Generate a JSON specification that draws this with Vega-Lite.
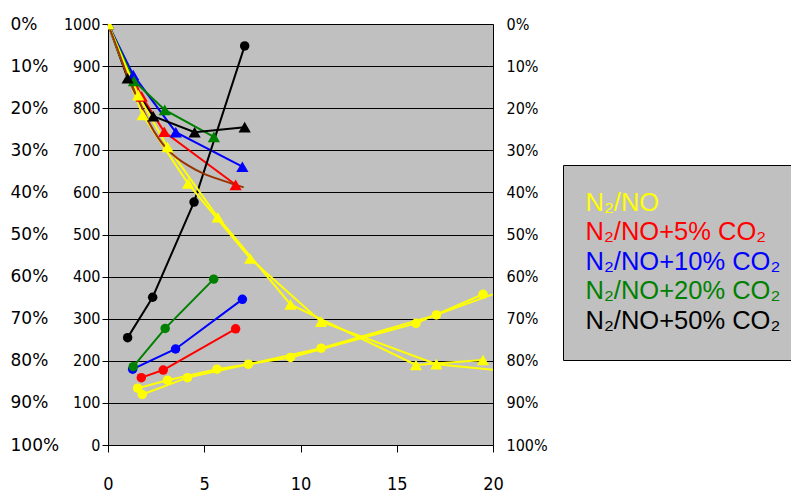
{
  "$schema": "https://vega.github.io/schema/vega-lite/v6.json",
  "width": 385,
  "height": 421,
  "autosize": {"type": "none"},
  "padding": {"left": 108, "top": 24, "right": 298, "bottom": 47},
  "background": "white",
  "config": {
    "view": {"fill": "#C0C0C0", "stroke": "#808080", "strokeWidth": 1},
    "axis": {"labelColor": "black", "domainColor": "black", "tickColor": "black", "title": null, "labelFlush": false}
  },
  "datasets": {
    "obs": [
      {"group": "N₂/NO+5% CO₂", "series": "red-f", "curve": "falling", "t": 0, "v": 1000},
      {"group": "N₂/NO+5% CO₂", "series": "red-f", "curve": "falling", "t": 1.75, "v": 828},
      {"group": "N₂/NO+5% CO₂", "series": "red-f", "curve": "falling", "t": 2.92, "v": 744},
      {"group": "N₂/NO+5% CO₂", "series": "red-f", "curve": "falling", "t": 6.63, "v": 618},
      {"group": "N₂/NO+5% CO₂", "series": "red-r", "curve": "rising", "t": 1.73, "v": 160},
      {"group": "N₂/NO+5% CO₂", "series": "red-r", "curve": "rising", "t": 2.87, "v": 178},
      {"group": "N₂/NO+5% CO₂", "series": "red-r", "curve": "rising", "t": 6.63, "v": 276},
      {"group": "N₂/NO+10% CO₂", "series": "blue-f", "curve": "falling", "t": 0, "v": 1000},
      {"group": "N₂/NO+10% CO₂", "series": "blue-f", "curve": "falling", "t": 1.31, "v": 879},
      {"group": "N₂/NO+10% CO₂", "series": "blue-f", "curve": "falling", "t": 3.52, "v": 743},
      {"group": "N₂/NO+10% CO₂", "series": "blue-f", "curve": "falling", "t": 6.98, "v": 661},
      {"group": "N₂/NO+10% CO₂", "series": "blue-r", "curve": "rising", "t": 1.28, "v": 180},
      {"group": "N₂/NO+10% CO₂", "series": "blue-r", "curve": "rising", "t": 3.51, "v": 228},
      {"group": "N₂/NO+10% CO₂", "series": "blue-r", "curve": "rising", "t": 6.98, "v": 346},
      {"group": "N₂/NO+20% CO₂", "series": "green-f", "curve": "falling", "t": 0, "v": 1000},
      {"group": "N₂/NO+20% CO₂", "series": "green-f", "curve": "falling", "t": 1.35, "v": 865},
      {"group": "N₂/NO+20% CO₂", "series": "green-f", "curve": "falling", "t": 2.95, "v": 796},
      {"group": "N₂/NO+20% CO₂", "series": "green-f", "curve": "falling", "t": 5.5, "v": 732},
      {"group": "N₂/NO+20% CO₂", "series": "green-r", "curve": "rising", "t": 1.31, "v": 186},
      {"group": "N₂/NO+20% CO₂", "series": "green-r", "curve": "rising", "t": 2.97, "v": 277},
      {"group": "N₂/NO+20% CO₂", "series": "green-r", "curve": "rising", "t": 5.49, "v": 394},
      {"group": "N₂/NO+50% CO₂", "series": "black-f", "curve": "falling", "t": 0, "v": 1000},
      {"group": "N₂/NO+50% CO₂", "series": "black-f", "curve": "falling", "t": 1.02, "v": 871},
      {"group": "N₂/NO+50% CO₂", "series": "black-f", "curve": "falling", "t": 2.35, "v": 781},
      {"group": "N₂/NO+50% CO₂", "series": "black-f", "curve": "falling", "t": 4.5, "v": 743},
      {"group": "N₂/NO+50% CO₂", "series": "black-f", "curve": "falling", "t": 7.1, "v": 755},
      {"group": "N₂/NO+50% CO₂", "series": "black-r", "curve": "rising", "t": 1.02, "v": 255},
      {"group": "N₂/NO+50% CO₂", "series": "black-r", "curve": "rising", "t": 2.32, "v": 351},
      {"group": "N₂/NO+50% CO₂", "series": "black-r", "curve": "rising", "t": 4.47, "v": 577},
      {"group": "N₂/NO+50% CO₂", "series": "black-r", "curve": "rising", "t": 7.1, "v": 948},
      {"group": "N₂/NO", "series": "yellow-f1", "curve": "falling", "t": 0, "v": 1000},
      {"group": "N₂/NO", "series": "yellow-f1", "curve": "falling", "t": 1.57, "v": 831},
      {"group": "N₂/NO", "series": "yellow-f1", "curve": "falling", "t": 3.09, "v": 708},
      {"group": "N₂/NO", "series": "yellow-f1", "curve": "falling", "t": 5.7, "v": 541},
      {"group": "N₂/NO", "series": "yellow-f1", "curve": "falling", "t": 9.48, "v": 334},
      {"group": "N₂/NO", "series": "yellow-f1", "curve": "falling", "t": 16.0, "v": 190},
      {"group": "N₂/NO", "series": "yellow-f1", "curve": "falling", "t": 19.48, "v": 202},
      {"group": "N₂/NO", "series": "yellow-f2", "curve": "falling", "t": 0, "v": 1000},
      {"group": "N₂/NO", "series": "yellow-f2", "curve": "falling", "t": 1.8, "v": 784},
      {"group": "N₂/NO", "series": "yellow-f2", "curve": "falling", "t": 4.16, "v": 621},
      {"group": "N₂/NO", "series": "yellow-f2", "curve": "falling", "t": 7.39, "v": 443},
      {"group": "N₂/NO", "series": "yellow-f2", "curve": "falling", "t": 11.07, "v": 293},
      {"group": "N₂/NO", "series": "yellow-f2", "curve": "falling", "t": 17.06, "v": 192},
      {"group": "N₂/NO", "series": "yellow-f2", "curve": "falling", "t": 22.5, "v": 167},
      {"group": "N₂/NO", "series": "yellow-r1", "curve": "rising", "t": 1.54, "v": 135},
      {"group": "N₂/NO", "series": "yellow-r1", "curve": "rising", "t": 3.09, "v": 154},
      {"group": "N₂/NO", "series": "yellow-r1", "curve": "rising", "t": 5.66, "v": 180},
      {"group": "N₂/NO", "series": "yellow-r1", "curve": "rising", "t": 9.48, "v": 208},
      {"group": "N₂/NO", "series": "yellow-r1", "curve": "rising", "t": 16.0, "v": 289},
      {"group": "N₂/NO", "series": "yellow-r1", "curve": "rising", "t": 19.48, "v": 358},
      {"group": "N₂/NO", "series": "yellow-r2", "curve": "rising", "t": 1.78, "v": 120},
      {"group": "N₂/NO", "series": "yellow-r2", "curve": "rising", "t": 4.13, "v": 160},
      {"group": "N₂/NO", "series": "yellow-r2", "curve": "rising", "t": 7.29, "v": 192},
      {"group": "N₂/NO", "series": "yellow-r2", "curve": "rising", "t": 11.07, "v": 230},
      {"group": "N₂/NO", "series": "yellow-r2", "curve": "rising", "t": 17.06, "v": 309},
      {"group": "N₂/NO", "series": "yellow-r2", "curve": "rising", "t": 22.5, "v": 400}
    ],
    "trend": [
      {"t": 0, "v": 1000},
      {"t": 0.5, "v": 940},
      {"t": 1.14, "v": 862},
      {"t": 1.66, "v": 812},
      {"t": 2.18, "v": 762},
      {"t": 2.6, "v": 730},
      {"t": 3.0, "v": 706},
      {"t": 3.47, "v": 686},
      {"t": 4.2, "v": 663},
      {"t": 4.94, "v": 645},
      {"t": 5.97, "v": 628},
      {"t": 7.05, "v": 612}
    ]
  },
  "layer": [
    {
      "data": {"name": "obs"},
      "mark": {"type": "line", "strokeWidth": 2, "clip": true},
      "encoding": {
        "x": {
          "field": "t", "type": "quantitative",
          "scale": {"domain": [0, 20], "nice": false},
          "axis": {
            "values": [0, 5, 10, 15, 20], "grid": false, "tickSize": 7, "labelPadding": 23,
            "labelFont": "DejaVu Sans Condensed", "labelFontSize": 18, "domainWidth": 1
          }
        },
        "y": {
          "field": "v", "type": "quantitative",
          "scale": {"domain": [0, 1000], "nice": false},
          "axis": {
            "orient": "left", "values": [0, 100, 200, 300, 400, 500, 600, 700, 800, 900, 1000],
            "format": "d",
            "grid": true, "gridColor": "black", "gridOpacity": 1, "gridWidth": 1,
            "tickSize": 6, "labelPadding": 2,
            "labelFont": "DejaVu Sans Condensed", "labelFontSize": 16
          }
        },
        "color": {
          "field": "group", "type": "nominal",
          "scale": {
            "domain": ["N₂/NO", "N₂/NO+5% CO₂", "N₂/NO+10% CO₂", "N₂/NO+20% CO₂", "N₂/NO+50% CO₂"],
            "range": ["#FFFF00", "#FF0000", "#0000FF", "#008000", "#000000"]
          },
          "legend": {
            "orient": "none", "legendX": 455, "legendY": 141, "title": null,
            "fillColor": "#C0C0C0", "strokeColor": "black", "padding": 25,
            "symbolSize": 0, "symbolStrokeWidth": 0, "symbolOpacity": 0,
            "labelFont": "Liberation Sans", "labelFontSize": 25.5, "labelOffset": -28,
            "rowPadding": 2.5, "labelLimit": 400,
            "encode": {"labels": {"update": {"fill": {"signal": "scale('color', datum.value)"}}}}
          }
        },
        "detail": {"field": "series", "type": "nominal"}
      }
    },
    {
      "data": {"name": "trend"},
      "mark": {"type": "line", "strokeWidth": 2, "color": "#993300", "interpolate": "monotone"},
      "encoding": {
        "x": {"field": "t", "type": "quantitative", "scale": {"domain": [0, 20], "nice": false}},
        "y": {
          "field": "v", "type": "quantitative",
          "scale": {"domain": [0, 1000], "nice": false},
          "axis": {
            "orient": "left", "values": [0, 100, 200, 300, 400, 500, 600, 700, 800, 900, 1000],
            "grid": false, "domain": false, "ticks": false, "labelAlign": "left", "labelPadding": 98,
            "labelFont": "DejaVu Sans", "labelFontSize": 17,
            "labelExpr": "(100 - datum.value / 10) + '%'"
          }
        }
      }
    },
    {
      "data": {"name": "obs"},
      "transform": [{"filter": "datum.curve === 'falling'"}],
      "mark": {"type": "point", "filled": true, "opacity": 1, "size": 150, "shape": "triangle-up", "clip": true},
      "encoding": {
        "x": {"field": "t", "type": "quantitative", "scale": {"domain": [0, 20], "nice": false}},
        "y": {
          "field": "v", "type": "quantitative",
          "scale": {"domain": [0, 1000], "nice": false},
          "axis": {
            "orient": "right", "values": [0, 100, 200, 300, 400, 500, 600, 700, 800, 900, 1000],
            "grid": false, "domain": true, "ticks": false, "labelPadding": 13,
            "labelFont": "DejaVu Sans Condensed", "labelFontSize": 16,
            "labelExpr": "(100 - datum.value / 10) + '%'"
          }
        },
        "color": {"field": "group", "type": "nominal"}
      }
    },
    {
      "data": {"name": "obs"},
      "transform": [{"filter": "datum.curve === 'rising'"}],
      "mark": {"type": "point", "filled": true, "opacity": 1, "size": 90, "shape": "circle", "clip": true},
      "encoding": {
        "x": {"field": "t", "type": "quantitative", "scale": {"domain": [0, 20], "nice": false}},
        "y": {"field": "v", "type": "quantitative", "scale": {"domain": [0, 1000], "nice": false}, "axis": null},
        "color": {"field": "group", "type": "nominal"}
      }
    }
  ],
  "resolve": {"axis": {"y": "independent"}}
}
